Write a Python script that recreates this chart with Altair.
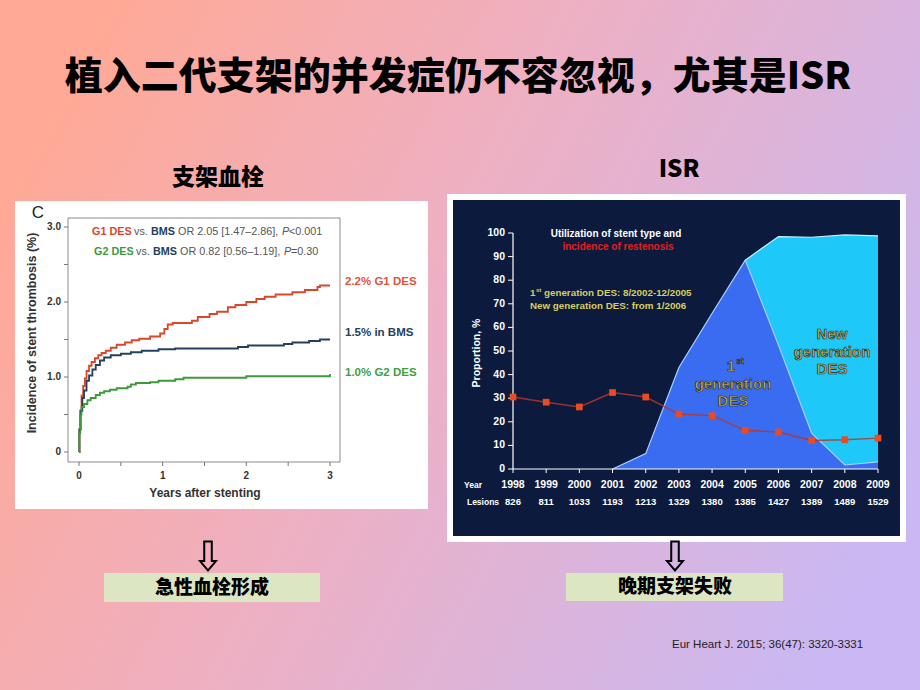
import altair as alt
import pandas as pd

# ---------------- data ----------------
title_text = "植入二代支架的并发症仍不容忽视，尤其是ISR"
left_heading = "支架血栓"
right_heading = "ISR"
left_box_text = "急性血栓形成"
right_box_text = "晚期支架失败"
citation = "Eur Heart J. 2015; 36(47): 3320-3331"

# Kaplan-Meier style cumulative incidence (%), years after stenting
km_series = ["G1 DES", "BMS", "G2 DES"]
km_colors = ["#d9472b", "#23405f", "#3c9a3c"]

g1_years = [0.0, 0.005, 0.015, 0.03, 0.05, 0.07, 0.09, 0.12, 0.15, 0.19, 0.23, 0.27,
            0.32, 0.38, 0.45, 0.55, 0.63, 0.72, 0.85, 0.97, 1.02, 1.06, 1.12, 1.35,
            1.42, 1.56, 1.65, 1.78, 1.87, 2.0, 2.12, 2.22, 2.35, 2.55, 2.7, 2.85, 2.88, 3.0]
g1_pct = [0.0, 0.30, 0.55, 0.75, 0.88, 0.98, 1.08, 1.15, 1.20, 1.25, 1.29, 1.32,
          1.35, 1.39, 1.43, 1.46, 1.49, 1.51, 1.54, 1.58, 1.64, 1.70, 1.72, 1.75,
          1.80, 1.84, 1.87, 1.93, 1.96, 2.00, 2.04, 2.07, 2.10, 2.13, 2.16, 2.20, 2.22, 2.22]

bms_years = [0.0, 0.005, 0.02, 0.04, 0.06, 0.09, 0.12, 0.16, 0.2, 0.25, 0.3, 0.38,
             0.5, 0.62, 0.75, 0.95, 1.15, 1.9, 2.02, 2.45, 2.55, 2.75, 2.88, 3.0]
bms_pct = [0.0, 0.30, 0.55, 0.72, 0.82, 0.95, 1.02, 1.10, 1.16, 1.22, 1.26, 1.29,
           1.31, 1.33, 1.35, 1.37, 1.38, 1.40, 1.42, 1.44, 1.46, 1.48, 1.50, 1.50]

g2_years = [0.0, 0.005, 0.015, 0.03, 0.06, 0.10, 0.14, 0.2, 0.25, 0.3, 0.37, 0.45,
            0.58, 0.62, 0.68, 0.85, 0.95, 1.15, 1.25, 2.0, 2.97, 3.0]
g2_pct = [0.0, 0.25, 0.50, 0.60, 0.64, 0.69, 0.72, 0.76, 0.79, 0.81, 0.83, 0.85,
          0.87, 0.90, 0.92, 0.93, 0.95, 0.97, 0.99, 1.01, 1.01, 1.04]

km_ticks = [0, 0.5, 1, 1.5, 2, 2.5, 3]
km_label_values = [0, 1, 2, 3]
km_y_labels = ["0", "1.0", "2.0", "3.0"]
km_x_labels = ["0", "1", "2", "3"]

# ISR chart
isr_years = list(range(1998, 2010))
lesions = [826, 811, 1033, 1193, 1213, 1329, 1380, 1385, 1427, 1389, 1489, 1529]
restenosis = [30.5, 28.3, 26.3, 32.4, 30.5, 23.3, 22.6, 16.4, 15.7, 12.1, 12.4, 13.1]
gen1_years = list(range(2001, 2010))
gen1_share = [0.0, 6.5, 43.0, 66.0, 88.5, 52.5, 15.2, 1.7, 3.0]
newgen_years = list(range(2005, 2010))
total_share = [88.5, 98.5, 98.2, 99.2, 98.8]
isr_y_ticks = list(range(0, 101, 10))

# ---------------- frames ----------------
km_df = pd.concat([
    pd.DataFrame({"t": g1_years, "v": g1_pct, "s": km_series[0]}),
    pd.DataFrame({"t": bms_years, "v": bms_pct, "s": km_series[1]}),
    pd.DataFrame({"t": g2_years, "v": g2_pct, "s": km_series[2]}),
])
km_tick_df = pd.DataFrame({"v": km_ticks})
km_lab_y = pd.DataFrame({"v": km_label_values, "lab": km_y_labels})
km_lab_x = pd.DataFrame({"v": km_label_values, "lab": km_x_labels})

isr_df = pd.DataFrame({"year": isr_years, "rest": restenosis,
                       "les": [str(x) for x in lesions], "ylab": [str(y) for y in isr_years]})
gen1_df = pd.DataFrame({"year": gen1_years, "g1": gen1_share})
new_df = pd.DataFrame({"year": newgen_years, "tot": total_share}).merge(gen1_df, on="year")
isr_tick_df = pd.DataFrame({"v": isr_y_ticks, "lab": [str(v) for v in isr_y_ticks]})

one = pd.DataFrame({"k": [0]})

SANS = "Liberation Sans, Arial, sans-serif"
CJK = "Noto Sans CJK SC"

km_x = alt.Scale(domain=[0, 3], range=[79, 330], nice=False, zero=False)
km_y = alt.Scale(domain=[0, 3], range=[452, 227], nice=False, zero=False)
isr_x = alt.Scale(domain=[1998, 2009], range=[513, 878], nice=False, zero=False)
isr_y = alt.Scale(domain=[0, 100], range=[469, 233], nice=False, zero=False)


def txt(s, x, y, size, color="black", weight="normal", font=SANS, align="center",
        angle=0, style="normal", baseline="middle", **kw):
    return alt.Chart(one).mark_text(
        text=s, fontSize=size, color=color, fontWeight=weight, font=font, align=align,
        angle=angle, fontStyle=style, baseline=baseline, **kw
    ).encode(x=alt.value(x), y=alt.value(y))


def box(x1, x2, y1, y2, **kw):
    return alt.Chart(one).mark_rect(**kw).encode(
        x=alt.value(x1), x2=alt.value(x2), y=alt.value(y1), y2=alt.value(y2))


layers = []

# background gradient
layers.append(box(0, 920, 0, 690, color=alt.LinearGradient(
    gradient="linear", x1=0, y1=0.3, x2=1, y2=0.7,
    stops=[alt.GradientStop(color="#FFA996", offset=0),
           alt.GradientStop(color="#EDB0C4", offset=0.45),
           alt.GradientStop(color="#C9B8F3", offset=1)])))

# headings
layers.append(txt(title_text, 458, 78, 38, weight=900, font=CJK))
layers.append(txt(left_heading, 218, 178, 23, weight=900, font=CJK))
layers.append(txt(right_heading, 679, 170, 24, weight=900, font=CJK))

# ---------- left panel (stent thrombosis) ----------
layers.append(box(15, 428, 201, 509, color="white"))
layers.append(box(68, 340, 218, 462, fillOpacity=0, stroke="#8c8c8c", strokeWidth=1))
layers.append(alt.Chart(km_tick_df).mark_rule(color="#777", strokeWidth=1).encode(
    y=alt.Y("v:Q", scale=km_y, axis=None), x=alt.value(64), x2=alt.value(68)))
layers.append(alt.Chart(km_tick_df).mark_rule(color="#777", strokeWidth=1).encode(
    x=alt.X("v:Q", scale=km_x, axis=None), y=alt.value(462), y2=alt.value(466)))
layers.append(alt.Chart(km_lab_y).mark_text(
    align="right", baseline="middle", fontSize=10, fontWeight="bold", font=SANS, color="#333").encode(
    y=alt.Y("v:Q", scale=km_y, axis=None), x=alt.value(61), text="lab:N"))
layers.append(alt.Chart(km_lab_x).mark_text(
    align="center", baseline="middle", fontSize=10, fontWeight="bold", font=SANS, color="#333").encode(
    x=alt.X("v:Q", scale=km_x, axis=None), y=alt.value(476), text="lab:N"))
layers.append(alt.Chart(km_df).mark_line(interpolate="step-after", strokeWidth=1.8).encode(
    x=alt.X("t:Q", scale=km_x, axis=None),
    y=alt.Y("v:Q", scale=km_y, axis=None),
    color=alt.Color("s:N", scale=alt.Scale(domain=km_series, range=km_colors), legend=None),
    detail="s:N"))

layers.append(txt("C", 38, 213, 17, color="#222"))
layers.append(txt("Incidence of stent thrombosis (%)", 32, 333, 12.5, weight="bold",
                  angle=270, color="#333"))
layers.append(txt("Years after stenting", 205, 493, 12, weight="bold", color="#333"))

GR = "#555555"
FS = 10.8
layers += [
    txt("G1 DES", 92, 232, FS, color=km_colors[0], weight="bold", align="left"),
    txt("vs.", 134, 232, FS, color=GR, align="left"),
    txt("BMS", 151, 232, FS, color=km_colors[1], weight="bold", align="left"),
    txt("OR 2.05 [1.47–2.86],", 178, 232, FS, color=GR, align="left"),
    txt("P", 282, 232, FS, color=GR, align="left", style="italic"),
    txt("<0.001", 289, 232, FS, color=GR, align="left"),
    txt("G2 DES", 94, 252, FS, color=km_colors[2], weight="bold", align="left"),
    txt("vs.", 136, 252, FS, color=GR, align="left"),
    txt("BMS", 153, 252, FS, color=km_colors[1], weight="bold", align="left"),
    txt("OR 0.82 [0.56–1.19],", 180, 252, FS, color=GR, align="left"),
    txt("P", 284, 252, FS, color=GR, align="left", style="italic"),
    txt("=0.30", 291, 252, FS, color=GR, align="left"),
    txt("2.2% G1 DES", 345, 282, 11.5, color="#e0533a", weight="bold", align="left"),
    txt("1.5% in BMS", 345, 333, 11.5, color=km_colors[1], weight="bold", align="left"),
    txt("1.0% G2 DES", 345, 373, 11.5, color="#3fa03f", weight="bold", align="left"),
]

# ---------- right panel (ISR) ----------
layers.append(box(447, 906, 194, 542, color="white"))
layers.append(box(453, 900, 200, 536, color="#0B1A3D"))

layers.append(alt.Chart(new_df).mark_area(
    color="#1ec8f8", opacity=1, fillOpacity=1,
    line={"color": "#c8f0ff", "strokeWidth": 1.2}).encode(
    x=alt.X("year:Q", scale=isr_x, axis=None),
    y=alt.Y("tot:Q", scale=isr_y, axis=None), y2="g1:Q"))
layers.append(alt.Chart(gen1_df).mark_area(
    color="#3a6cf2", opacity=1, fillOpacity=1,
    line={"color": "#a9d2ff", "strokeWidth": 1.2}).encode(
    x=alt.X("year:Q", scale=isr_x, axis=None),
    y=alt.Y("g1:Q", scale=isr_y, axis=None)))

# axes
layers.append(alt.Chart(one).mark_rule(color="white", strokeWidth=1.2).encode(
    x=alt.value(513), y=alt.value(233), y2=alt.value(469)))
layers.append(alt.Chart(one).mark_rule(color="white", strokeWidth=1.2).encode(
    x=alt.value(513), x2=alt.value(878), y=alt.value(469)))
layers.append(alt.Chart(isr_tick_df).mark_rule(color="white", strokeWidth=1).encode(
    y=alt.Y("v:Q", scale=isr_y, axis=None), x=alt.value(508), x2=alt.value(513)))
layers.append(alt.Chart(isr_df).mark_rule(color="white", strokeWidth=1).encode(
    x=alt.X("year:Q", scale=isr_x, axis=None), y=alt.value(469), y2=alt.value(473)))
layers.append(alt.Chart(isr_tick_df).mark_text(
    align="right", baseline="middle", fontSize=10.5, fontWeight="bold", font=SANS, color="white").encode(
    y=alt.Y("v:Q", scale=isr_y, axis=None), x=alt.value(505), text="lab:N"))
layers.append(alt.Chart(isr_df).mark_text(
    align="center", baseline="middle", fontSize=10.5, fontWeight="bold", font=SANS, color="white").encode(
    x=alt.X("year:Q", scale=isr_x, axis=None), y=alt.value(485), text="ylab:N"))
layers.append(alt.Chart(isr_df).mark_text(
    align="center", baseline="middle", fontSize=9.5, fontWeight="bold", font=SANS, color="white").encode(
    x=alt.X("year:Q", scale=isr_x, axis=None), y=alt.value(502), text="les:N"))

# restenosis line + markers
layers.append(alt.Chart(isr_df).mark_line(color="#b8352a", strokeWidth=1.4, opacity=0.85).encode(
    x=alt.X("year:Q", scale=isr_x, axis=None), y=alt.Y("rest:Q", scale=isr_y, axis=None)))
layers.append(alt.Chart(isr_df).mark_point(
    shape="square", filled=True, size=45, color="#ec4a1f", opacity=1).encode(
    x=alt.X("year:Q", scale=isr_x, axis=None), y=alt.Y("rest:Q", scale=isr_y, axis=None)))

YEL = "#d8ce5c"
layers += [
    txt("Year", 473, 485, 8.5, color="white", weight="bold"),
    txt("Lesions", 483, 502, 8.5, color="white", weight="bold"),
    txt("Proportion, %", 477, 353, 10.5, color="white", weight="bold", angle=270),
    txt("Utilization of stent type and", 616, 234, 10, color="white", weight="bold"),
    txt("incidence of restenosis", 618, 247, 10, color="#e0201e", weight="bold"),
    txt("1", 530, 293, 9.8, color=YEL, weight="bold", align="left"),
    txt("st", 536, 290, 6, color=YEL, weight="bold", align="left"),
    txt("generation DES: 8/2002-12/2005", 544, 293, 9.8, color=YEL, weight="bold", align="left"),
    txt("New generation DES:  from 1/2006", 530, 306, 9.8, color=YEL, weight="bold", align="left"),
]
AREA_TXT = dict(color="#bdb35c", weight="bold", stroke="#1e1e1e", strokeWidth=0.6)
layers += [
    txt("1", 731, 366, 15, **AREA_TXT),
    txt("st", 740, 361, 8.5, **AREA_TXT),
    txt("generation", 733, 384, 15, **AREA_TXT),
    txt("DES", 733, 401, 15, **AREA_TXT),
    txt("New", 832, 334, 15, **AREA_TXT),
    txt("generation", 832, 352, 15, **AREA_TXT),
    txt("DES", 832, 369, 15, **AREA_TXT),
]

# ---------- arrows, boxes, citation ----------
ARROW = "M-0.26,-1 L0.26,-1 L0.26,0.35 L0.55,0.35 L0,1 L-0.55,0.35 L-0.26,0.35 Z"
for ax in (208, 675):
    layers.append(alt.Chart(one).mark_point(
        shape=ARROW, filled=False, size=841, stroke="black", strokeWidth=2, opacity=1).encode(
        x=alt.value(ax), y=alt.value(556)))
layers.append(box(104, 320, 573, 602, color="#DCE6C2"))
layers.append(box(566, 783, 573, 601, color="#DCE6C2"))
layers.append(txt(left_box_text, 212, 588, 19, weight=900, font=CJK))
layers.append(txt(right_box_text, 675, 587, 19, weight=900, font=CJK))
layers.append(txt(citation, 672, 645, 11.5, color="#222", align="left"))

chart = alt.layer(*layers).resolve_scale(
    x="independent", y="independent", color="independent"
).properties(
    width=920, height=690, padding=0, autosize=alt.AutoSizeParams(type="none")
).configure_view(stroke=None)

chart.save("out.html", embed_options={"renderer": "svg", "actions": False})
